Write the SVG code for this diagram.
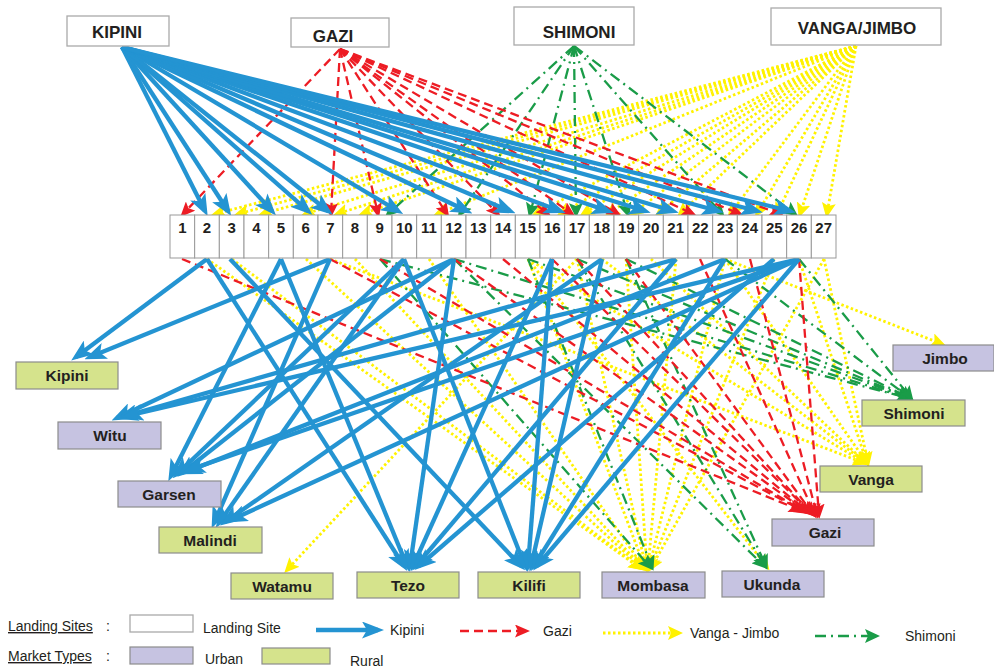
<svg xmlns="http://www.w3.org/2000/svg" width="994" height="669" viewBox="0 0 994 669">
<style>
.bl{stroke:#2494d2;stroke-width:4.3;fill:none;marker-end:url(#mb)}
.rd{stroke:#ed1c24;stroke-width:2.3;stroke-dasharray:9 5;fill:none;marker-end:url(#mr)}
.yl{stroke:#fff200;stroke-width:2.8;stroke-dasharray:2.5 2.5;fill:none;marker-end:url(#my)}
.gr{stroke:#1a9c48;stroke-width:2.3;stroke-dasharray:11 5 2 5;fill:none;marker-end:url(#mg)}
.src{fill:#fff;stroke:#aaa;stroke-width:1.3}
.cell{fill:#fff;stroke:#999;stroke-width:1}
.urb{fill:#c6c3e1;stroke:#8c8c8c;stroke-width:1.2}
.rur{fill:#d5e38c;stroke:#8c8c8c;stroke-width:1.2}
.tt{font-family:"Liberation Sans",Arial,sans-serif;font-weight:bold;font-size:17px;fill:#231f20;text-anchor:middle}
.cn{font-family:"Liberation Sans",Arial,sans-serif;font-weight:bold;font-size:15px;fill:#231f20;text-anchor:middle}
.mt{font-family:"Liberation Sans",Arial,sans-serif;font-weight:bold;font-size:15.5px;fill:#231f20;text-anchor:middle}
.lg{font-family:"Liberation Sans",Arial,sans-serif;font-size:14px;fill:#231f20}
</style>
<defs>
<marker id="mb" markerUnits="userSpaceOnUse" markerWidth="22" markerHeight="17" viewBox="0 0 22 17" refX="16" refY="8.5" orient="auto"><path d="M0,0 L22,8.5 L0,17 L5,8.5 z" fill="#2494d2"/></marker>
<marker id="mr" markerUnits="userSpaceOnUse" markerWidth="15" markerHeight="13" viewBox="0 0 15 13" refX="11" refY="6.5" orient="auto"><path d="M0,0 L15,6.5 L0,13 L3,6.5 z" fill="#ed1c24"/></marker>
<marker id="my" markerUnits="userSpaceOnUse" markerWidth="15" markerHeight="14" viewBox="0 0 15 14" refX="11" refY="7" orient="auto"><path d="M0,0 L15,7 L0,14 L3,7 z" fill="#fff200"/></marker>
<marker id="mg" markerUnits="userSpaceOnUse" markerWidth="15" markerHeight="14" viewBox="0 0 15 14" refX="11" refY="7" orient="auto"><path d="M0,0 L15,7 L0,14 L3,7 z" fill="#1a9c48"/></marker>
</defs>
<rect width="994" height="669" fill="#fff"/>
<g id="connectors">
<line class="yl" x1="856" y1="46" x2="215" y2="214"/>
<line class="yl" x1="856" y1="46" x2="238" y2="214"/>
<line class="yl" x1="856" y1="46" x2="262" y2="214"/>
<line class="yl" x1="856" y1="46" x2="305" y2="214"/>
<line class="yl" x1="856" y1="46" x2="337" y2="214"/>
<line class="yl" x1="856" y1="46" x2="362" y2="214"/>
<line class="yl" x1="856" y1="46" x2="437" y2="214"/>
<line class="yl" x1="856" y1="46" x2="535" y2="214"/>
<line class="yl" x1="856" y1="46" x2="560" y2="214"/>
<line class="yl" x1="856" y1="46" x2="583" y2="214"/>
<line class="yl" x1="856" y1="46" x2="608" y2="214"/>
<line class="yl" x1="856" y1="46" x2="632" y2="214"/>
<line class="yl" x1="856" y1="46" x2="658" y2="214"/>
<line class="yl" x1="856" y1="46" x2="680" y2="214"/>
<line class="yl" x1="856" y1="46" x2="730" y2="214"/>
<line class="yl" x1="856" y1="46" x2="757" y2="214"/>
<line class="yl" x1="856" y1="46" x2="777" y2="214"/>
<line class="yl" x1="856" y1="46" x2="800" y2="214"/>
<line class="yl" x1="856" y1="46" x2="827" y2="214"/>
<line class="gr" x1="574" y1="46" x2="388" y2="214"/>
<line class="gr" x1="574" y1="46" x2="460" y2="214"/>
<line class="gr" x1="574" y1="46" x2="530" y2="214"/>
<line class="gr" x1="574" y1="46" x2="576" y2="214"/>
<line class="gr" x1="574" y1="46" x2="628" y2="214"/>
<line class="gr" x1="574" y1="46" x2="722" y2="214"/>
<line class="gr" x1="574" y1="46" x2="795" y2="214"/>
<line class="rd" x1="340" y1="49" x2="183" y2="214"/>
<line class="rd" x1="340" y1="49" x2="331" y2="214"/>
<line class="rd" x1="340" y1="49" x2="378" y2="214"/>
<line class="rd" x1="340" y1="49" x2="447" y2="214"/>
<line class="rd" x1="340" y1="49" x2="498" y2="214"/>
<line class="rd" x1="340" y1="49" x2="548" y2="214"/>
<line class="rd" x1="340" y1="49" x2="572" y2="214"/>
<line class="rd" x1="340" y1="49" x2="618" y2="214"/>
<line class="rd" x1="340" y1="49" x2="693" y2="214"/>
<line class="rd" x1="340" y1="49" x2="740" y2="214"/>
<line class="rd" x1="340" y1="49" x2="780" y2="214"/>
<line class="bl" x1="122" y1="47" x2="205" y2="211"/>
<line class="bl" x1="122" y1="47" x2="228" y2="211"/>
<line class="bl" x1="122" y1="47" x2="272" y2="211"/>
<line class="bl" x1="122" y1="47" x2="308" y2="211"/>
<line class="bl" x1="122" y1="47" x2="328" y2="211"/>
<line class="bl" x1="122" y1="47" x2="398" y2="211"/>
<line class="bl" x1="122" y1="47" x2="467" y2="211"/>
<line class="bl" x1="122" y1="47" x2="510" y2="211"/>
<line class="bl" x1="122" y1="47" x2="560" y2="211"/>
<line class="bl" x1="122" y1="47" x2="608" y2="211"/>
<line class="bl" x1="122" y1="47" x2="645" y2="211"/>
<line class="bl" x1="122" y1="47" x2="673" y2="211"/>
<line class="bl" x1="122" y1="47" x2="718" y2="211"/>
<line class="bl" x1="122" y1="47" x2="757" y2="211"/>
<line class="bl" x1="122" y1="47" x2="790" y2="211"/>
<line class="yl" x1="207" y1="259" x2="640" y2="568"/>
<line class="yl" x1="232" y1="259" x2="641" y2="568"/>
<line class="yl" x1="306" y1="259" x2="642" y2="568"/>
<line class="yl" x1="355" y1="259" x2="643" y2="568"/>
<line class="yl" x1="429" y1="259" x2="644" y2="568"/>
<line class="yl" x1="528" y1="259" x2="645" y2="568"/>
<line class="yl" x1="577" y1="259" x2="646" y2="568"/>
<line class="yl" x1="626" y1="259" x2="647" y2="568"/>
<line class="yl" x1="676" y1="259" x2="648" y2="568"/>
<line class="yl" x1="725" y1="259" x2="649" y2="568"/>
<line class="yl" x1="774" y1="259" x2="650" y2="568"/>
<line class="yl" x1="824" y1="259" x2="651" y2="568"/>
<line class="yl" x1="330" y1="259" x2="864" y2="463"/>
<line class="yl" x1="528" y1="259" x2="865" y2="463"/>
<line class="yl" x1="602" y1="259" x2="866" y2="463"/>
<line class="yl" x1="651" y1="259" x2="866" y2="463"/>
<line class="yl" x1="725" y1="259" x2="867" y2="463"/>
<line class="yl" x1="799" y1="259" x2="867" y2="463"/>
<line class="yl" x1="824" y1="259" x2="868" y2="463"/>
<line class="yl" x1="725" y1="259" x2="942" y2="344"/>
<line class="yl" x1="577" y1="259" x2="287" y2="570"/>
<line class="yl" x1="528" y1="259" x2="767" y2="567"/>
<line class="gr" x1="380" y1="259" x2="908" y2="398"/>
<line class="gr" x1="454" y1="259" x2="908" y2="398"/>
<line class="gr" x1="528" y1="259" x2="909" y2="398"/>
<line class="gr" x1="577" y1="259" x2="909" y2="398"/>
<line class="gr" x1="626" y1="259" x2="910" y2="398"/>
<line class="gr" x1="725" y1="259" x2="910" y2="398"/>
<line class="gr" x1="799" y1="259" x2="911" y2="398"/>
<line class="gr" x1="454" y1="259" x2="764" y2="566"/>
<line class="gr" x1="577" y1="259" x2="765" y2="566"/>
<line class="gr" x1="626" y1="259" x2="766" y2="566"/>
<line class="gr" x1="380" y1="259" x2="650" y2="567"/>
<line class="gr" x1="528" y1="259" x2="652" y2="567"/>
<line class="rd" x1="182" y1="259" x2="800" y2="510"/>
<line class="rd" x1="330" y1="259" x2="803" y2="511"/>
<line class="rd" x1="380" y1="259" x2="805" y2="512"/>
<line class="rd" x1="454" y1="259" x2="807" y2="512"/>
<line class="rd" x1="503" y1="259" x2="809" y2="513"/>
<line class="rd" x1="552" y1="259" x2="811" y2="513"/>
<line class="rd" x1="577" y1="259" x2="812" y2="514"/>
<line class="rd" x1="626" y1="259" x2="813" y2="514"/>
<line class="rd" x1="700" y1="259" x2="815" y2="515"/>
<line class="rd" x1="750" y1="259" x2="817" y2="515"/>
<line class="rd" x1="799" y1="259" x2="819" y2="515"/>
<line class="bl" x1="207" y1="259" x2="76" y2="357"/>
<line class="bl" x1="330" y1="259" x2="90" y2="357"/>
<line class="bl" x1="454" y1="259" x2="117" y2="418"/>
<line class="bl" x1="676" y1="259" x2="122" y2="417"/>
<line class="bl" x1="799" y1="259" x2="127" y2="416"/>
<line class="bl" x1="281" y1="259" x2="171" y2="476"/>
<line class="bl" x1="404" y1="259" x2="177" y2="474"/>
<line class="bl" x1="454" y1="259" x2="182" y2="473"/>
<line class="bl" x1="725" y1="259" x2="186" y2="472"/>
<line class="bl" x1="799" y1="259" x2="189" y2="470"/>
<line class="bl" x1="330" y1="259" x2="214" y2="523"/>
<line class="bl" x1="404" y1="259" x2="219" y2="523"/>
<line class="bl" x1="602" y1="259" x2="225" y2="522"/>
<line class="bl" x1="799" y1="259" x2="231" y2="520"/>
<line class="bl" x1="207" y1="259" x2="404" y2="566"/>
<line class="bl" x1="281" y1="259" x2="407" y2="566"/>
<line class="bl" x1="454" y1="259" x2="410" y2="566"/>
<line class="bl" x1="552" y1="259" x2="413" y2="566"/>
<line class="bl" x1="676" y1="259" x2="416" y2="566"/>
<line class="bl" x1="774" y1="259" x2="419" y2="566"/>
<line class="bl" x1="230" y1="259" x2="521" y2="566"/>
<line class="bl" x1="404" y1="259" x2="525" y2="566"/>
<line class="bl" x1="552" y1="259" x2="528" y2="566"/>
<line class="bl" x1="602" y1="259" x2="531" y2="566"/>
<line class="bl" x1="725" y1="259" x2="534" y2="566"/>
<line class="bl" x1="799" y1="259" x2="537" y2="566"/>
</g>
<g id="src-kipini"><rect class="src" x="67" y="16" width="102" height="30"/><text class="tt" x="117" y="38">KIPINI</text></g>
<g id="src-gazi"><rect class="src" x="291" y="18" width="98" height="29"/><text class="tt" x="333" y="42">GAZI</text></g>
<g id="src-shimoni"><rect class="src" x="514" y="7" width="120" height="38"/><text class="tt" x="579" y="38">SHIMONI</text></g>
<g id="src-vanga"><rect class="src" x="771" y="8" width="170" height="37"/><text class="tt" x="857" y="34">VANGA/JIMBO</text></g>
<g id="site-1"><rect class="cell" x="170" y="215" width="24.67" height="43"/><text class="cn" x="182.3" y="233">1</text></g>
<g id="site-2"><rect class="cell" x="194.67" y="215" width="24.67" height="43"/><text class="cn" x="207" y="233">2</text></g>
<g id="site-3"><rect class="cell" x="219.33" y="215" width="24.67" height="43"/><text class="cn" x="231.7" y="233">3</text></g>
<g id="site-4"><rect class="cell" x="244" y="215" width="24.67" height="43"/><text class="cn" x="256.3" y="233">4</text></g>
<g id="site-5"><rect class="cell" x="268.67" y="215" width="24.67" height="43"/><text class="cn" x="281" y="233">5</text></g>
<g id="site-6"><rect class="cell" x="293.33" y="215" width="24.67" height="43"/><text class="cn" x="305.7" y="233">6</text></g>
<g id="site-7"><rect class="cell" x="318" y="215" width="24.67" height="43"/><text class="cn" x="330.3" y="233">7</text></g>
<g id="site-8"><rect class="cell" x="342.67" y="215" width="24.67" height="43"/><text class="cn" x="355" y="233" font-weight="normal">8</text></g>
<g id="site-9"><rect class="cell" x="367.33" y="215" width="24.67" height="43"/><text class="cn" x="379.7" y="233">9</text></g>
<g id="site-10"><rect class="cell" x="392" y="215" width="24.67" height="43"/><text class="cn" x="404.3" y="233">10</text></g>
<g id="site-11"><rect class="cell" x="416.67" y="215" width="24.67" height="43"/><text class="cn" x="429" y="233">11</text></g>
<g id="site-12"><rect class="cell" x="441.33" y="215" width="24.67" height="43"/><text class="cn" x="453.7" y="233">12</text></g>
<g id="site-13"><rect class="cell" x="466" y="215" width="24.67" height="43"/><text class="cn" x="478.3" y="233">13</text></g>
<g id="site-14"><rect class="cell" x="490.67" y="215" width="24.67" height="43"/><text class="cn" x="503" y="233">14</text></g>
<g id="site-15"><rect class="cell" x="515.33" y="215" width="24.67" height="43"/><text class="cn" x="527.7" y="233">15</text></g>
<g id="site-16"><rect class="cell" x="540" y="215" width="24.67" height="43"/><text class="cn" x="552.3" y="233">16</text></g>
<g id="site-17"><rect class="cell" x="564.67" y="215" width="24.67" height="43"/><text class="cn" x="577" y="233">17</text></g>
<g id="site-18"><rect class="cell" x="589.33" y="215" width="24.67" height="43"/><text class="cn" x="601.7" y="233">18</text></g>
<g id="site-19"><rect class="cell" x="614" y="215" width="24.67" height="43"/><text class="cn" x="626.3" y="233">19</text></g>
<g id="site-20"><rect class="cell" x="638.67" y="215" width="24.67" height="43"/><text class="cn" x="651" y="233">20</text></g>
<g id="site-21"><rect class="cell" x="663.33" y="215" width="24.67" height="43"/><text class="cn" x="675.7" y="233">21</text></g>
<g id="site-22"><rect class="cell" x="688" y="215" width="24.67" height="43"/><text class="cn" x="700.3" y="233">22</text></g>
<g id="site-23"><rect class="cell" x="712.67" y="215" width="24.67" height="43"/><text class="cn" x="725" y="233">23</text></g>
<g id="site-24"><rect class="cell" x="737.33" y="215" width="24.67" height="43"/><text class="cn" x="749.7" y="233">24</text></g>
<g id="site-25"><rect class="cell" x="762" y="215" width="24.67" height="43"/><text class="cn" x="774.3" y="233">25</text></g>
<g id="site-26"><rect class="cell" x="786.67" y="215" width="24.67" height="43"/><text class="cn" x="799" y="233">26</text></g>
<g id="site-27"><rect class="cell" x="811.33" y="215" width="24.67" height="43"/><text class="cn" x="823.7" y="233">27</text></g>
<g id="mkt-kipini"><rect class="rur" x="16" y="362" width="102" height="27"/><text class="mt" x="67" y="381">Kipini</text></g>
<g id="mkt-witu"><rect class="urb" x="58" y="422" width="103" height="27"/><text class="mt" x="110" y="441">Witu</text></g>
<g id="mkt-garsen"><rect class="urb" x="118" y="481" width="103" height="26"/><text class="mt" x="169" y="500">Garsen</text></g>
<g id="mkt-malindi"><rect class="rur" x="159" y="527" width="103" height="26"/><text class="mt" x="210" y="546">Malindi</text></g>
<g id="mkt-watamu"><rect class="rur" x="231" y="573" width="102" height="26"/><text class="mt" x="282" y="592">Watamu</text></g>
<g id="mkt-tezo"><rect class="rur" x="357" y="572" width="102" height="26"/><text class="mt" x="408" y="591">Tezo</text></g>
<g id="mkt-kilifi"><rect class="rur" x="478" y="572" width="102" height="26"/><text class="mt" x="529" y="591">Kilifi</text></g>
<g id="mkt-mombasa"><rect class="urb" x="602" y="572" width="103" height="26"/><text class="mt" x="653" y="591">Mombasa</text></g>
<g id="mkt-ukunda"><rect class="urb" x="722" y="571" width="102" height="26"/><text class="mt" x="772" y="590">Ukunda</text></g>
<g id="mkt-gazi"><rect class="urb" x="772" y="519" width="102" height="27"/><text class="mt" x="825" y="538">Gazi</text></g>
<g id="mkt-vanga"><rect class="rur" x="820" y="466" width="102" height="26"/><text class="mt" x="871" y="485">Vanga</text></g>
<g id="mkt-shimoni"><rect class="rur" x="862" y="400" width="103" height="26"/><text class="mt" x="914" y="419">Shimoni</text></g>
<g id="mkt-jimbo"><rect class="urb" x="893" y="345" width="101" height="26"/><text class="mt" x="945" y="364">Jimbo</text></g>
<g id="legend">
<text class="lg" x="8" y="631" text-decoration="underline">Landing Sites</text><text class="lg" x="106" y="631">:</text>
<rect class="src" x="130" y="615" width="63" height="17"/>
<text class="lg" x="203" y="633">Landing Site</text>
<line class="bl" x1="316" y1="630" x2="378" y2="630"/>
<text class="lg" x="390" y="635">Kipini</text>
<line class="rd" x1="460" y1="631" x2="526" y2="631"/>
<text class="lg" x="543" y="636">Gazi</text>
<line class="yl" x1="603" y1="633" x2="679" y2="633"/>
<text class="lg" x="690" y="638">Vanga - Jimbo</text>
<line class="gr" x1="815" y1="636" x2="876" y2="636"/>
<text class="lg" x="905" y="641">Shimoni</text>
<text class="lg" x="8" y="661" text-decoration="underline">Market Types</text><text class="lg" x="106" y="661">:</text>
<rect class="urb" x="130" y="647" width="63" height="17"/>
<text class="lg" x="205" y="664">Urban</text>
<rect class="rur" x="262" y="648" width="68" height="16"/>
<text class="lg" x="350" y="666">Rural</text>
</g>
</svg>
